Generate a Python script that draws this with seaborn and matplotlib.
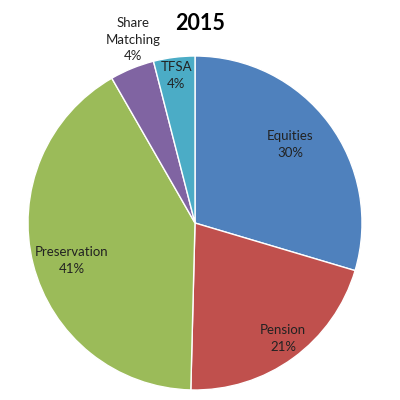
import numpy as np
import matplotlib
matplotlib.use("Agg")
import matplotlib.pyplot as plt
import seaborn as sns

# data
categories = ["Equities", "Pension", "Preservation", "Share\nMatching", "TFSA"]
shares = [29.6, 20.8, 41.3, 4.3, 4.0]
colors = ["#4F81BD", "#C0504D", "#9BBB59", "#8064A2", "#4BACC6"]

# label placement (radius as fraction of pie radius, angle tweak in degrees)
label_dist = [0.74, 0.87, 0.77, 1.16, 0.89]
label_tweak = [2.7, 1.4, 2.8, -3.4, 0]

sns.set_theme(style="white")
plt.rcParams["font.family"] = ["Lato", "DejaVu Sans"]

fig = plt.figure(figsize=(4, 4), dpi=100)
ax = fig.add_axes([0, 0, 1, 1])

cx, cy, r = 195, 400 - 223, 167
wedges, _ = ax.pie(shares, colors=colors, startangle=90, counterclock=False,
                   center=(cx, cy), radius=r, frame=True,
                   wedgeprops=dict(edgecolor="white", linewidth=1))
ax.set_xlim(0, 400)
ax.set_ylim(0, 400)
ax.set_aspect("equal")
ax.axis("off")

for w, name, val, d, t in zip(wedges, categories, shares, label_dist, label_tweak):
    mid = np.deg2rad((w.theta1 + w.theta2) / 2 + t)
    ax.text(cx + d * r * np.cos(mid), cy + d * r * np.sin(mid),
            f"{name}\n{val:.0f}%", ha="center", va="center",
            fontsize=9.5, color="#222222", linespacing=1.45)

fig.text(200 / 400, 1 - 24 / 400, "2015", ha="center", va="center",
         fontsize=15.5, fontweight="bold", color="black")

fig.savefig("out.png", dpi=100, facecolor="white")
